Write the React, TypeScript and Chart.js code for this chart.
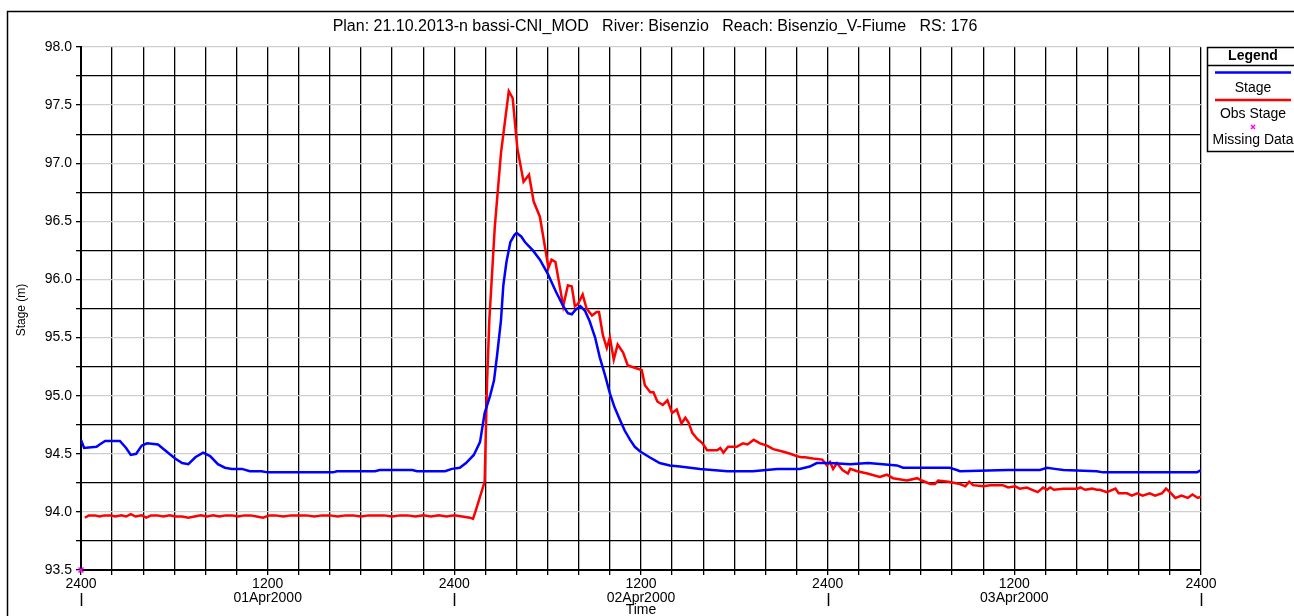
import React, { useEffect, useRef } from "react";
import { Chart, registerables } from "chart.js";

Chart.register(...registerables);

const TITLE = "Plan: 21.10.2013-n bassi-CNI_MOD   River: Bisenzio   Reach: Bisenzio_V-Fiume   RS: 176";

// Time in hours from 01Apr2000 0000 (shown as "2400")
const stageHours = [
  0, 0.2, 1.0, 1.2, 1.55, 2.5, 2.9, 3.2, 3.55, 3.9, 4.25, 4.95, 5.4, 6.05, 6.5, 6.9, 7.35, 7.85, 8.3, 8.8,
  9.25, 9.7, 10.35, 10.85, 11.6, 12.0, 16.2, 16.45, 18.9, 19.2, 21.3, 21.6, 23.4, 23.85, 24.35, 24.75, 25.25,
  25.65, 25.95, 26.3, 26.55, 26.75, 27.0, 27.15, 27.35, 27.6, 27.85, 28.0, 28.3, 28.55, 29.05, 29.5, 30.0,
  30.55, 31.0, 31.3, 31.55, 31.8, 32.1, 32.4, 32.7, 33.05, 33.35, 33.7, 34.0, 34.3, 34.65, 34.95, 35.3, 35.6,
  35.95, 36.55, 37.2, 37.85, 38.5, 39.8, 41.55, 43.2, 44.75, 46.2, 46.85, 47.3, 48.15, 49.45, 50.6, 51.55,
  52.45, 52.85, 55.85, 56.3, 56.5, 59.55, 61.65, 62.1, 62.6, 63.15, 65.3, 65.7, 71.75, 72.0,
];
const stageValues = [
  94.62, 94.55, 94.56, 94.58, 94.61, 94.61, 94.55, 94.49, 94.5, 94.57, 94.59, 94.58, 94.53, 94.46, 94.42, 94.41, 94.47, 94.51, 94.48, 94.41,
  94.38, 94.37, 94.37, 94.35, 94.35, 94.34, 94.34, 94.35, 94.35, 94.36, 94.36, 94.35, 94.35, 94.37, 94.38, 94.42, 94.49,
  94.6, 94.85, 95.0, 95.13, 95.35, 95.65, 95.95, 96.15, 96.32, 96.38, 96.4, 96.37, 96.32, 96.25, 96.17, 96.05,
  95.89, 95.77, 95.71, 95.7, 95.74, 95.77, 95.73, 95.64, 95.5, 95.33, 95.17, 95.02, 94.9, 94.79, 94.7, 94.62, 94.56,
  94.52, 94.47, 94.42, 94.4, 94.39, 94.37, 94.35, 94.35, 94.37, 94.37, 94.39, 94.42, 94.42, 94.41, 94.42, 94.41,
  94.4, 94.38, 94.38, 94.36, 94.35, 94.36, 94.36, 94.38, 94.37, 94.36, 94.35, 94.34, 94.34, 94.36,
];

const obsHours = [
  0.25, 0.5, 0.9, 1.2, 1.5, 1.9, 2.2, 2.6, 2.9, 3.2, 3.5, 3.9, 4.2, 4.5, 4.9, 5.3, 5.7, 6.1, 6.5, 6.9, 7.3, 7.7,
  8.1, 8.5, 8.9, 9.3, 9.7, 10.1, 10.5, 10.9, 11.3, 11.7, 12.1, 12.5, 13.0, 13.5, 14.0, 14.5, 15.0, 15.5, 16.0,
  16.5, 17.0, 17.5, 18.0, 18.5, 19.0, 19.5, 20.0, 20.5, 21.0, 21.5, 22.0, 22.5, 23.0, 23.5, 24.0, 24.5, 25.0,
  25.2, 25.35, 25.65, 25.95, 26.1, 26.25, 26.6, 27.0, 27.5, 27.75, 28.05, 28.45, 28.8, 29.1, 29.5, 30.05, 30.25,
  30.5, 31.0, 31.3, 31.55, 31.75, 31.95, 32.25, 32.5, 32.85, 33.15, 33.3, 33.55, 33.8, 34.0, 34.25, 34.5, 34.85,
  35.15, 35.6, 36.05, 36.25, 36.6, 36.8, 37.05, 37.4, 37.7, 38.0, 38.3, 38.6, 38.85, 39.05, 39.3, 39.6, 39.95,
  40.25, 40.9, 41.1, 41.3, 41.6, 42.15, 42.55, 42.85, 43.25, 43.65, 44.1, 44.5, 45.1, 45.6, 46.0, 46.3, 46.55,
  47.05, 47.65, 47.95, 48.15, 48.35, 48.6, 48.95, 49.3, 49.45, 49.9, 50.55, 51.35, 51.8, 52.2, 53.1, 53.75,
  54.05, 54.6, 54.9, 55.1, 55.75, 56.5, 56.85, 57.1, 57.35, 58.0, 58.45, 59.25, 59.6, 60.05, 60.35, 60.8, 61.15,
  61.5, 61.85, 62.1, 62.3, 62.55, 63.15, 64.05, 64.25, 64.55, 65.0, 65.3, 65.5, 65.95, 66.5, 66.7, 67.25, 67.55,
  67.9, 68.25, 68.7, 69.05, 69.5, 69.75, 70.0, 70.35, 70.75, 71.15, 71.45, 71.8, 72.0,
];
const obsValues = [
  93.95, 93.97, 93.97, 93.96, 93.97, 93.97, 93.96, 93.97, 93.96, 93.98, 93.96, 93.97, 93.95, 93.97, 93.97, 93.96, 93.97, 93.96, 93.96, 93.95, 93.96, 93.97,
  93.96, 93.97, 93.96, 93.97, 93.97, 93.96, 93.97, 93.97, 93.96, 93.95, 93.97, 93.97, 93.96, 93.97, 93.97, 93.97, 93.96, 93.97, 93.97,
  93.96, 93.97, 93.97, 93.96, 93.97, 93.97, 93.97, 93.96, 93.97, 93.97, 93.96, 93.97, 93.96, 93.97, 93.96, 93.97, 93.96, 93.95,
  93.94, 94.0, 94.13, 94.26, 95.1, 95.65, 96.45, 97.09, 97.62, 97.56, 97.13, 96.84, 96.9, 96.67, 96.54, 96.1, 96.17,
  96.15, 95.77, 95.95, 95.94, 95.77, 95.79, 95.87, 95.75, 95.69, 95.72, 95.72, 95.52, 95.41, 95.5, 95.31, 95.44, 95.37,
  95.26, 95.24, 95.22, 95.09, 95.03, 95.03, 94.95, 94.92, 94.96, 94.85, 94.88, 94.76, 94.81, 94.77, 94.68, 94.63, 94.59,
  94.53, 94.53, 94.55, 94.51, 94.56, 94.56, 94.59, 94.58, 94.62, 94.59, 94.57, 94.54, 94.52, 94.5, 94.48, 94.47, 94.47,
  94.46, 94.45, 94.4, 94.43, 94.37, 94.42, 94.36, 94.33, 94.37, 94.35, 94.33, 94.3, 94.32, 94.29, 94.27, 94.29,
  94.27, 94.24, 94.24, 94.27, 94.26, 94.24, 94.22, 94.26, 94.23, 94.22, 94.23, 94.23, 94.21, 94.22, 94.2, 94.21, 94.19,
  94.17, 94.21, 94.19, 94.21, 94.19, 94.2, 94.2, 94.21, 94.19, 94.2, 94.19, 94.19, 94.17, 94.2, 94.16, 94.16, 94.14,
  94.16, 94.14, 94.16, 94.14, 94.16, 94.2, 94.17, 94.12, 94.14, 94.12, 94.15, 94.12, 94.13,
];

const missingHours = [0];
const missingValues = [93.5];

const dateLabelHours = [12, 36, 60];
const dateLabels = ["01Apr2000", "02Apr2000", "03Apr2000"];
const dayBoundaryHours = [0, 24, 48, 72];

const FONT = "'Liberation Sans', Arial, sans-serif";

const decorPlugin = {
  id: "decor",
  afterDraw(chart: any) {
    const ctx = chart.ctx as CanvasRenderingContext2D;
    const area = chart.chartArea;
    const xs = chart.scales.x;
    ctx.save();
    // outer frame
    ctx.strokeStyle = "#000";
    ctx.lineWidth = 1.5;
    ctx.strokeRect(7.5, 11.5, 1400, 700);
    // title
    ctx.fillStyle = "#000";
    ctx.font = `16px ${FONT}`;
    ctx.textAlign = "center";
    ctx.textBaseline = "middle";
    ctx.fillText(TITLE, 655, 27);
    // y title
    ctx.save();
    ctx.translate(22, 310);
    ctx.rotate(-Math.PI / 2);
    ctx.font = `12px ${FONT}`;
    ctx.fillText("Stage (m)", 0, 0);
    ctx.restore();
    // date labels
    ctx.font = `14px ${FONT}`;
    dateLabelHours.forEach((h, i) => {
      ctx.fillText(dateLabels[i], xs.getPixelForValue(h), 598);
    });
    // long day ticks
    ctx.lineWidth = 1.5;
    dayBoundaryHours.forEach((h) => {
      const px = Math.round(xs.getPixelForValue(h)) + 0.5;
      ctx.beginPath();
      ctx.moveTo(px, 593);
      ctx.lineTo(px, 606);
      ctx.stroke();
    });
    ctx.fillText("Time", (area.left + area.right) / 2, 610);
    // legend box
    const lx = 1207.5;
    ctx.lineWidth = 1.5;
    ctx.strokeRect(lx, 47.5, 120, 104);
    ctx.beginPath();
    ctx.moveTo(lx, 65.5);
    ctx.lineTo(1300, 65.5);
    ctx.stroke();
    ctx.font = `bold 14px ${FONT}`;
    ctx.fillText("Legend", 1253, 56);
    ctx.lineWidth = 2.5;
    ctx.strokeStyle = "#0000ff";
    ctx.beginPath();
    ctx.moveTo(1215, 72.5);
    ctx.lineTo(1291, 72.5);
    ctx.stroke();
    ctx.strokeStyle = "#ff0000";
    ctx.beginPath();
    ctx.moveTo(1215, 100);
    ctx.lineTo(1291, 100);
    ctx.stroke();
    ctx.font = `14px ${FONT}`;
    ctx.fillStyle = "#000";
    ctx.fillText("Stage", 1253, 88);
    ctx.fillText("Obs Stage", 1253, 114);
    ctx.fillText("Missing Data", 1253, 140);
    ctx.strokeStyle = "#ff00ff";
    ctx.lineWidth = 1.5;
    ctx.beginPath();
    ctx.moveTo(1251, 125);
    ctx.lineTo(1255, 129);
    ctx.moveTo(1255, 125);
    ctx.lineTo(1251, 129);
    ctx.stroke();
    ctx.restore();
  },
};

export default function App() {
  const ref = useRef<HTMLCanvasElement | null>(null);
  useEffect(() => {
    if (!ref.current) return;
    const isHalf = (v: number) => Math.abs(v * 2 - Math.round(v * 2)) < 1e-6;
    const chart = new Chart(ref.current, {
      type: "line",
      data: {
        datasets: [
          {
            label: "Stage",
            data: stageHours.map((h, i) => ({ x: h, y: stageValues[i] })),
            borderColor: "#0000ff",
            borderWidth: 2.5,
            pointRadius: 0,
            tension: 0,
          },
          {
            label: "Obs Stage",
            data: obsHours.map((h, i) => ({ x: h, y: obsValues[i] })),
            borderColor: "#ff0000",
            borderWidth: 2.5,
            pointRadius: 0,
            tension: 0,
          },
          {
            label: "Missing Data",
            data: missingHours.map((h, i) => ({ x: h, y: missingValues[i] })),
            showLine: false,
            pointStyle: "crossRot",
            pointRadius: 3.5,
            borderColor: "#ff00ff",
            backgroundColor: "#ff00ff",
            borderWidth: 1.5,
            clip: false,
          } as any,
        ],
      },
      options: {
        animation: false,
        responsive: false,
        devicePixelRatio: 1,
        layout: { padding: { left: 0, right: 93, top: 47, bottom: 0 } },
        plugins: { legend: { display: false }, tooltip: { enabled: false }, title: { display: false } },
        scales: {
          x: {
            type: "linear",
            min: 0,
            max: 72,
            afterFit: (s: any) => {
              s.height = 46;
            },
            ticks: {
              stepSize: 2,
              autoSkip: false,
              maxRotation: 0,
              padding: 1,
              color: "#000",
              font: { family: FONT, size: 14 },
              callback: (v: any) => (v % 24 === 0 ? "2400" : v % 24 === 12 ? "1200" : ""),
            },
            grid: { color: "#000", lineWidth: 1.3, tickLength: 5, tickColor: "#000" },
            border: { color: "#000", width: 2 },
          },
          y: {
            min: 93.5,
            max: 98,
            afterFit: (s: any) => {
              s.width = 81;
            },
            ticks: {
              stepSize: 0.25,
              autoSkip: false,
              padding: 4,
              color: "#000",
              font: { family: FONT, size: 14 },
              callback: (v: any) => (isHalf(Number(v)) ? Number(v).toFixed(1) : ""),
            },
            grid: {
              color: (c: any) => (isHalf(c.tick.value) ? "#cfcfcf" : "#000000"),
              lineWidth: 1.3,
              tickLength: 5,
              tickColor: "#000",
            },
            border: { color: "#000", width: 2 },
          },
        },
      },
      plugins: [decorPlugin],
    });
    return () => chart.destroy();
  }, []);
  return (
    <div style={{ position: "fixed", left: 0, top: 0, width: 1294, height: 616, background: "#fff" }}>
      <canvas ref={ref} width={1294} height={616} style={{ width: 1294, height: 616, display: "block" }} />
    </div>
  );
}
